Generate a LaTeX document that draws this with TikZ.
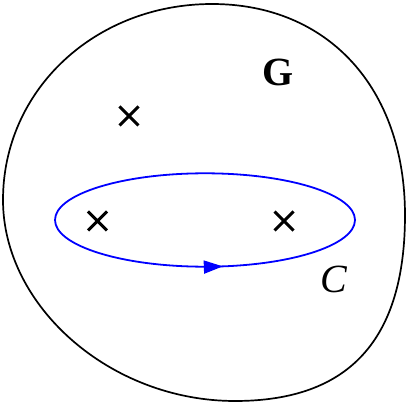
\documentclass[tikz,border=0pt]{standalone}
\usepackage{fontspec}
\setmainfont{Liberation Serif}
\usetikzlibrary{decorations.markings,arrows.meta}
\begin{document}
\begin{tikzpicture}[x=1pt,y=-1pt,
  region/.style={draw=black,line width=1.7pt},
  contour/.style={draw=blue,line width=1.8pt},
  crossmark/.style={line width=3pt}]
\useasboundingbox (0,0) rectangle (408,404);
\coordinate (T) at (212,4);
\coordinate (R) at (405,215);
\coordinate (B) at (235,401);
\coordinate (L) at (3,200);
\draw[region] (T) .. controls +(116,0) and +(0,-127) .. (R)
  .. controls +(0,125) and +(114,0) .. (B)
  .. controls +(-125,0) and +(0,106) .. (L)
  .. controls +(0,-110) and +(-117,0) .. (T) -- cycle;
\coordinate (E) at (205,220);
\draw[contour,postaction={decorate},decoration={markings,
  mark=at position 0.223 with {\arrowreversed[blue]{Triangle[length=19pt,width=13pt]}}}]
  (E) ellipse [x radius=150, y radius=46.7];
\coordinate (p1) at (129,116);
\coordinate (p2) at (97.5,221);
\coordinate (p3) at (284,221);
\foreach \p in {p1,p2,p3}
  \draw[crossmark] ([shift={(-9.5,-9.5)}]\p) -- ([shift={(9.5,9.5)}]\p)
                   ([shift={(-9.5,9.5)}]\p) -- ([shift={(9.5,-9.5)}]\p);
\node (G) at (278,72) {\fontsize{40}{40}\selectfont\bfseries G};
\node (C) at (334,279) {\fontsize{40}{40}\selectfont\itshape C};
\end{tikzpicture}
\end{document}
